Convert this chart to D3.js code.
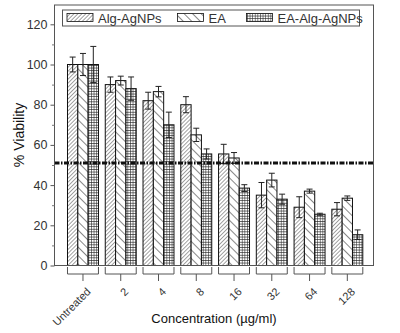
<!DOCTYPE html>
<html><head><meta charset="utf-8">
<script src="https://cdn.jsdelivr.net/npm/d3@7"></script>
<style>body{margin:0;background:#fff}svg{display:block}text{font-family:"Liberation Sans",Arial,sans-serif}</style>
</head><body>
<svg id="c" width="400" height="333"></svg>
<script>
const categories = ["Untreated","2","4","8","16","32","64","128"];
const seriesNames = ["Alg-AgNPs","EA","EA-Alg-AgNPs"];
const algValues = [100, 90, 82, 80, 55.5, 35, 29, 28];
const algErrors = [3.7, 3.8, 4.2, 4, 4.8, 6.3, 5.2, 3.3];
const eaValues = [100, 92, 86.5, 65, 53.5, 42.5, 37, 33.5];
const eaErrors = [5.5, 2.2, 2.6, 3.3, 2.7, 3.4, 1, 1.1];
const eaAlgValues = [100, 88, 70, 55.5, 38.5, 33, 25.5, 15.3];
const eaAlgErrors = [9, 5.8, 6.3, 2.5, 1.7, 2.5, 0.5, 2.4];
const yTicks = [0,20,40,60,80,100,120];
const threshold = 51;

(function(){
const svg = d3.select("#c");
const defs = svg.append("defs");
const p1 = defs.append("pattern").attr("id","pA").attr("patternUnits","userSpaceOnUse").attr("width",2.8).attr("height",2.8).attr("patternTransform","rotate(45)");
p1.append("rect").attr("width",2.8).attr("height",2.8).attr("fill","#fff");
p1.append("line").attr("x1",0).attr("y1",0).attr("x2",0).attr("y2",2.8).attr("stroke","#555").attr("stroke-width",1.1);
const p2 = defs.append("pattern").attr("id","pB").attr("patternUnits","userSpaceOnUse").attr("width",6).attr("height",6).attr("patternTransform","rotate(-45)");
p2.append("rect").attr("width",6).attr("height",6).attr("fill","#fff");
p2.append("line").attr("x1",0).attr("y1",0).attr("x2",0).attr("y2",6).attr("stroke","#111").attr("stroke-width",1);
const p3 = defs.append("pattern").attr("id","pC").attr("patternUnits","userSpaceOnUse").attr("width",2.6).attr("height",2.6);
p3.append("rect").attr("width",2.6).attr("height",2.6).attr("fill","#fff");
p3.append("path").attr("d","M0,0H2.6M0,0V2.6").attr("stroke","#222").attr("stroke-width",1.1);
const fills = ["url(#pA)","url(#pB)","url(#pC)"];

const pl = 54.5, pr = 373.5, pt = 5, pb = 265.5;
const y = d3.scaleLinear().domain([0,120]).range([265.5,24.3]);
const x = d3.scaleBand().domain(categories).range([64.1,366.2]).paddingInner(0.18).paddingOuter(0.09);
const xs = d3.scaleBand().domain(seriesNames).range([0,x.bandwidth()]);

const values = [algValues, eaValues, eaAlgValues];
const errors = [algErrors, eaErrors, eaAlgErrors];
const data = [];
categories.forEach((c,i)=>seriesNames.forEach((s,j)=>data.push({c,s,j,v:values[j][i],e:errors[j][i]})));

svg.append("g").selectAll("rect").data(data).join("rect")
  .attr("x",d=>x(d.c)+xs(d.s)).attr("y",d=>y(d.v))
  .attr("width",xs.bandwidth()).attr("height",d=>y(0)-y(d.v))
  .attr("fill",d=>fills[d.j]).attr("stroke","#111").attr("stroke-width",1);

const eb = svg.append("g").attr("stroke","#222").attr("stroke-width",1);
data.forEach(d=>{
  const cx = x(d.c)+xs(d.s)+xs.bandwidth()/2;
  eb.append("line").attr("x1",cx).attr("x2",cx).attr("y1",y(d.v+d.e)).attr("y2",y(d.v-d.e));
  eb.append("line").attr("x1",cx-3).attr("x2",cx+3).attr("y1",y(d.v+d.e)).attr("y2",y(d.v+d.e));
  eb.append("line").attr("x1",cx-3).attr("x2",cx+3).attr("y1",y(d.v-d.e)).attr("y2",y(d.v-d.e));
});

svg.append("line").attr("x1",pl).attr("x2",pr).attr("y1",y(threshold)).attr("y2",y(threshold))
  .attr("stroke","#111").attr("stroke-width",3).attr("stroke-dasharray","5,1.5,1.5,1.5");

svg.append("rect").attr("x",pl).attr("y",pt).attr("width",pr-pl).attr("height",pb-pt)
  .attr("fill","none").attr("stroke","#555").attr("stroke-width",1);

const ya = svg.append("g").attr("transform",`translate(${pl},0)`)
  .call(d3.axisLeft(y).tickValues(yTicks).tickSize(4).tickPadding(3));
ya.select(".domain").remove();
ya.selectAll("line").attr("stroke","#555");
ya.selectAll("text").attr("font-size",12.5).attr("fill","#333").attr("font-family","Liberation Sans, Arial, sans-serif");
const yminor = svg.append("g").attr("transform",`translate(${pl},0)`)
  .call(d3.axisLeft(y).tickValues([10,30,50,70,90,110]).tickSize(2.5).tickFormat(""));
yminor.select(".domain").remove();
yminor.selectAll("line").attr("stroke","#777");

const br = svg.append("g").attr("stroke","#555").attr("fill","none").attr("stroke-width",1);
categories.forEach(c=>{
  const x0 = x(c), x1 = x(c)+x.bandwidth(), cx = x0+x.bandwidth()/2;
  br.append("path").attr("d",`M${x0},267V274H${x1}V267M${cx},274V281`);
});
svg.append("g").selectAll("text").data(categories).join("text")
  .attr("transform",c=>`translate(${x(c)+x.bandwidth()/2+3},287) rotate(-45)`)
  .attr("text-anchor","end").attr("dy","0.7em").attr("font-size",11).attr("fill","#333")
  .text(c=>c);

svg.append("text").attr("x",214).attr("y",323).attr("text-anchor","middle").attr("font-size",13).attr("fill","#111")
  .text("Concentration (µg/ml)");
svg.append("text").attr("transform","translate(24,135) rotate(-90)").attr("text-anchor","middle").attr("font-size",14).attr("fill","#111")
  .text("% Viability");

svg.append("rect").attr("x",62.5).attr("y",10).attr("width",297).attr("height",16).attr("fill","#fff").attr("stroke","#555");
const legX = [67, 177.5, 246.5];
seriesNames.forEach((s,j)=>{
  svg.append("rect").attr("x",legX[j]).attr("y",13.5).attr("width",26).attr("height",8).attr("fill",fills[j]).attr("stroke","#111").attr("stroke-width",0.8);
  svg.append("text").attr("x",legX[j]+31).attr("y",22.5).attr("font-size",13).attr("fill","#333").text(s);
});
})();
</script>
</body></html>
